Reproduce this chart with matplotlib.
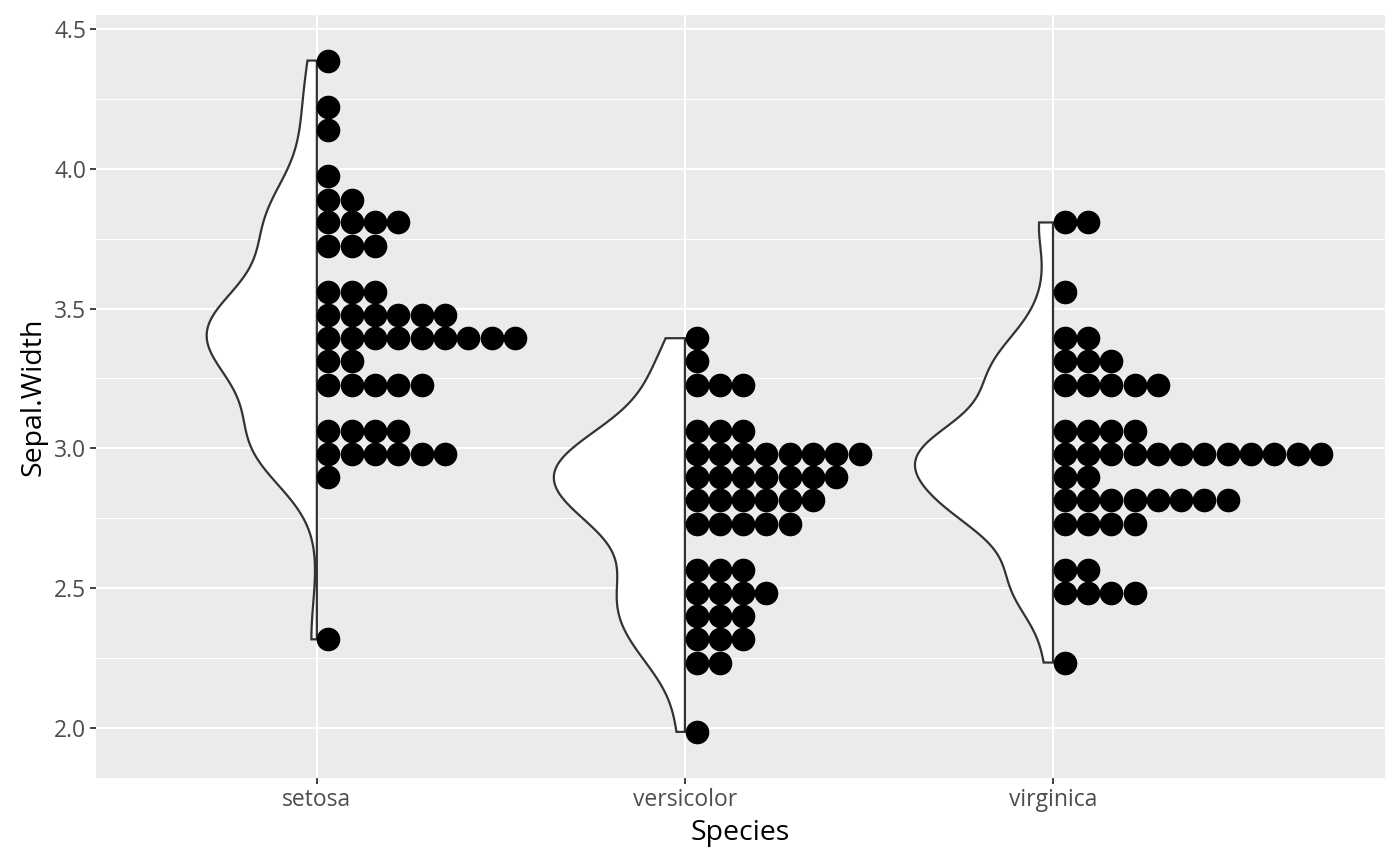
import numpy as np
import matplotlib
matplotlib.use("Agg")
import matplotlib.pyplot as plt

plt.rcParams['font.family'] = ['Open Sans', 'DejaVu Sans']

species = ['setosa', 'versicolor', 'virginica']

# dot rows: bin centre (Sepal.Width) and number of dots
setosa_y = [4.387, 4.222, 4.139, 3.973, 3.890, 3.808, 3.725, 3.559, 3.476,
            3.394, 3.311, 3.228, 3.062, 2.980, 2.897, 2.317]
setosa_n = [1, 1, 1, 1, 2, 4, 3, 3, 6, 9, 2, 5, 4, 6, 1, 1]

versicolor_y = [3.394, 3.311, 3.228, 3.062, 2.980, 2.897, 2.814, 2.731,
                2.566, 2.483, 2.400, 2.317, 2.234, 1.986]
versicolor_n = [1, 1, 3, 3, 8, 7, 6, 5, 3, 4, 3, 3, 2, 1]

virginica_y = [3.808, 3.559, 3.394, 3.311, 3.228, 3.062, 2.980, 2.897,
               2.814, 2.731, 2.566, 2.483, 2.234]
virginica_n = [2, 1, 2, 3, 5, 4, 12, 2, 8, 4, 2, 4, 1]

groups = [(setosa_y, setosa_n), (versicolor_y, versicolor_n), (virginica_y, virginica_n)]


def kde_nrd0(vals, grid):
    n = len(vals)
    sd = np.std(vals, ddof=1)
    q1, q3 = np.percentile(vals, [25, 75])
    bw = 0.9 * min(sd, (q3 - q1) / 1.34) * n ** -0.2
    z = (grid[:, None] - vals[None, :]) / bw
    return np.exp(-0.5 * z ** 2).sum(axis=1) / (n * bw * np.sqrt(2 * np.pi))


fig = plt.figure(figsize=(14, 8.65), dpi=100)
ax = fig.add_axes([96 / 1400, 87 / 865, 1289 / 1400, 763 / 865])
ax.set_facecolor('#EBEBEB')

# half violins, area scaled
dens = []
for ys, ns in groups:
    vals = np.repeat(np.array(ys), ns)
    grid = np.linspace(vals.min(), vals.max(), 512)
    dens.append((grid, kde_nrd0(vals, grid)))
dmax = max(d.max() for _, d in dens)
max_half = 0.375

for i, (grid, d) in enumerate(dens):
    xc = i + 1
    w = d / dmax * max_half
    px = np.concatenate([[xc], xc - w, [xc]])
    py = np.concatenate([[grid[0]], grid, [grid[-1]]])
    ax.fill(px, py, facecolor='white', edgecolor='#333333', linewidth=1.6, zorder=3)

# dot stacks
step = 23.3 / 368
for i, (ys, ns) in enumerate(groups):
    xs, yy = [], []
    for y, n in zip(ys, ns):
        for j in range(n):
            xs.append(i + 1 + (j + 0.5) * step)
            yy.append(y)
    ax.scatter(xs, yy, s=290, c='black', linewidths=0, zorder=4)

ax.set_xlim(0.4, 3.902)
ax.set_ylim(1.821, 4.550)

yt = [2.0, 2.5, 3.0, 3.5, 4.0, 4.5]
ax.set_yticks(yt)
ax.set_yticklabels(['%.1f' % v for v in yt])
ax.set_yticks([2.25, 2.75, 3.25, 3.75, 4.25], minor=True)
ax.set_xticks([1, 2, 3])
ax.set_xticklabels(species)

ax.grid(True, which='major', color='white', linewidth=1.5, zorder=0)
ax.grid(True, which='minor', axis='y', color='white', linewidth=0.75, zorder=0)
ax.set_axisbelow(True)
for s in ax.spines.values():
    s.set_visible(False)
ax.tick_params(which='major', length=4, width=1.3, color='#333333',
               labelsize=16.5, labelcolor='#4D4D4D', pad=3)
ax.tick_params(which='minor', length=0)

ax.set_xlabel('Species', fontsize=20.5, color='black', labelpad=5)
ax.set_ylabel('Sepal.Width', fontsize=20.5, color='black', labelpad=5)

fig.savefig('out.png', dpi=100)
